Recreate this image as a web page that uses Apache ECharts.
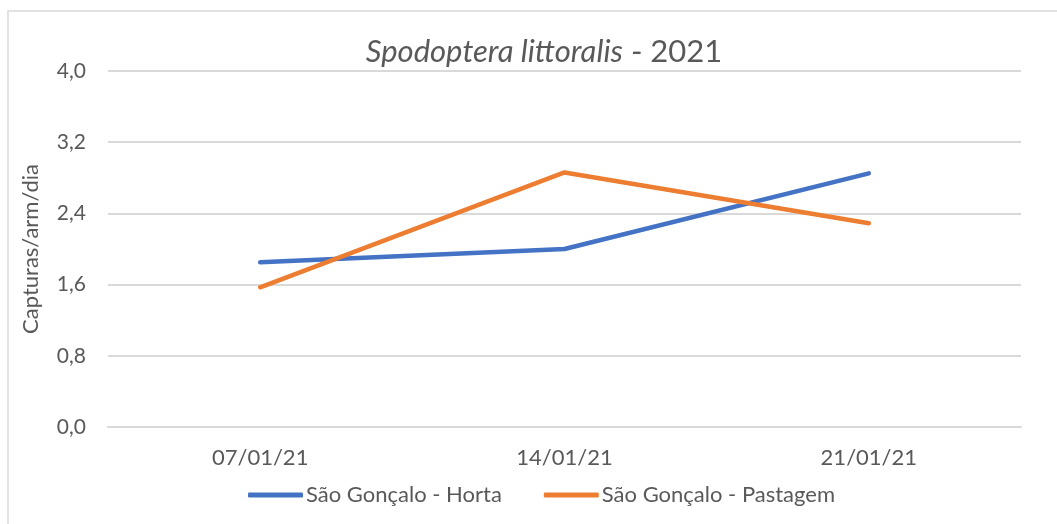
<!DOCTYPE html>
<html>
<head>
<meta charset="utf-8">
<script src="https://cdn.jsdelivr.net/npm/echarts@6/dist/echarts.min.js"></script>
<style>
html,body{margin:0;padding:0;background:#fff;}
#chart{width:1057px;height:524px;}
</style>
</head>
<body>
<div id="chart"></div>
<script>
const categories = ['07/01/21', '14/01/21', '21/01/21'];
const seriesNames = ['São Gonçalo - Horta', 'São Gonçalo - Pastagem'];
const horta = [1.85, 2.0, 2.85];
const pastagem = [1.57, 2.86, 2.29];
const yTicks = [0, 0.8, 1.6, 2.4, 3.2, 4.0];

const FONT = 'Lato, "Open Sans", sans-serif';
const TXT = '#595959';
const chart = echarts.init(document.getElementById('chart'));
chart.setOption({
  backgroundColor: '#fff',
  animation: false,
  graphic: [{
    type: 'rect',
    shape: { x: 8, y: 11, width: 1060, height: 530 },
    style: { fill: 'none', stroke: '#d9d9d9', lineWidth: 1.5 },
    silent: true
  }],
  title: {
    text: '{i|Spodoptera littoralis}{n| - 2021}',
    left: 539,
    textAlign: 'center',
    top: 31,
    textStyle: {
      fontWeight: 'normal',
      rich: {
        i: { fontFamily: FONT, fontSize: 31, fontStyle: 'italic', fontWeight: 'normal', color: TXT },
        n: { fontFamily: FONT, fontSize: 31, fontWeight: 'normal', color: TXT }
      }
    }
  },
  grid: { left: 108, right: 36, top: 71, bottom: 97, containLabel: false },
  legend: {
    top: 479,
    left: 243,
    itemGap: 42,
    itemWidth: 55,
    itemHeight: 5,
    icon: 'roundRect',
    textStyle: { fontFamily: FONT, fontSize: 22, color: TXT, padding: [0, 0, 0, -2] },
    data: seriesNames
  },
  xAxis: {
    type: 'category',
    data: categories,
    boundaryGap: true,
    axisLine: { lineStyle: { color: '#d9d9d9', width: 2 } },
    axisTick: { show: false },
    axisLabel: { fontFamily: FONT, fontSize: 22, color: TXT, margin: 20 }
  },
  yAxis: {
    type: 'value',
    min: 0,
    max: 4.0,
    interval: 0.8,
    name: 'Capturas/arm/dia',
    nameLocation: 'middle',
    nameGap: 66,
    nameRotate: 90,
    nameTextStyle: { fontFamily: FONT, fontSize: 22, color: TXT },
    axisLine: { show: false },
    axisTick: { show: false },
    splitLine: { lineStyle: { color: '#d9d9d9', width: 2 } },
    axisLabel: {
      fontFamily: FONT, fontSize: 21, color: TXT, margin: 22,
      formatter: v => {
        const t = yTicks.find(k => Math.abs(k - v) < 1e-6);
        return (t !== undefined ? t : v).toFixed(1).replace('.', ',');
      }
    }
  },
  series: [
    {
      name: seriesNames[0], type: 'line', data: horta,
      showSymbol: false, symbol: 'none',
      lineStyle: { color: '#4472C4', width: 4.5, cap: 'round', join: 'round' },
      itemStyle: { color: '#4472C4' }
    },
    {
      name: seriesNames[1], type: 'line', data: pastagem,
      showSymbol: false, symbol: 'none',
      lineStyle: { color: '#ED7D31', width: 4.5, cap: 'round', join: 'round' },
      itemStyle: { color: '#ED7D31' }
    }
  ]
});
</script>
</body>
</html>
